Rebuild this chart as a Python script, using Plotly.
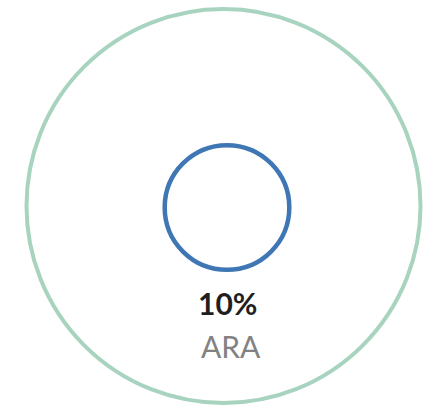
import math
import plotly.graph_objects as go

# Proportional-area circles: the outer ring is the whole (100%),
# the inner ring is the ARA share.
labels = ["Total", "ARA"]
values = [100, 10]
share_text = "10%"
share_label = "ARA"

colors = ["#a8d4bf", "#3f77b5"]

W, H = 437, 407
outer_radius_px = 197.0
k = outer_radius_px / math.sqrt(max(values))  # px per sqrt(unit)

centers = [(223.5, 206.0), (227.0, 207.5)]
line_widths = [4, 4.5]

fig = go.Figure()
fig.add_trace(go.Scatter(x=[0, W], y=[0, H], mode="markers",
                         marker=dict(opacity=0), hoverinfo="skip",
                         showlegend=False))

for (cx, cy), v, c, lw in zip(centers, values, colors, line_widths):
    r = k * math.sqrt(v)
    fig.add_shape(type="circle", xref="x", yref="y",
                  x0=cx - r, x1=cx + r, y0=cy - r, y1=cy + r,
                  line=dict(color=c, width=lw), fillcolor="rgba(0,0,0,0)")

tx = centers[1][0]
fig.add_annotation(x=tx, y=303, xref="x", yref="y", text=share_text,
                   showarrow=False,
                   font=dict(family="Lato", size=30, color="#1f1f1f",
                             weight="bold"))
fig.add_annotation(x=tx + 4, y=346, xref="x", yref="y", text=share_label,
                   showarrow=False,
                   font=dict(family="Lato", size=30, color="#828282"))

fig.update_xaxes(range=[0, W], visible=False, fixedrange=True)
fig.update_yaxes(range=[H, 0], visible=False, fixedrange=True)
fig.update_layout(width=W, height=H, margin=dict(l=0, r=0, t=0, b=0),
                  paper_bgcolor="white", plot_bgcolor="white")

fig.write_html("out.html")
